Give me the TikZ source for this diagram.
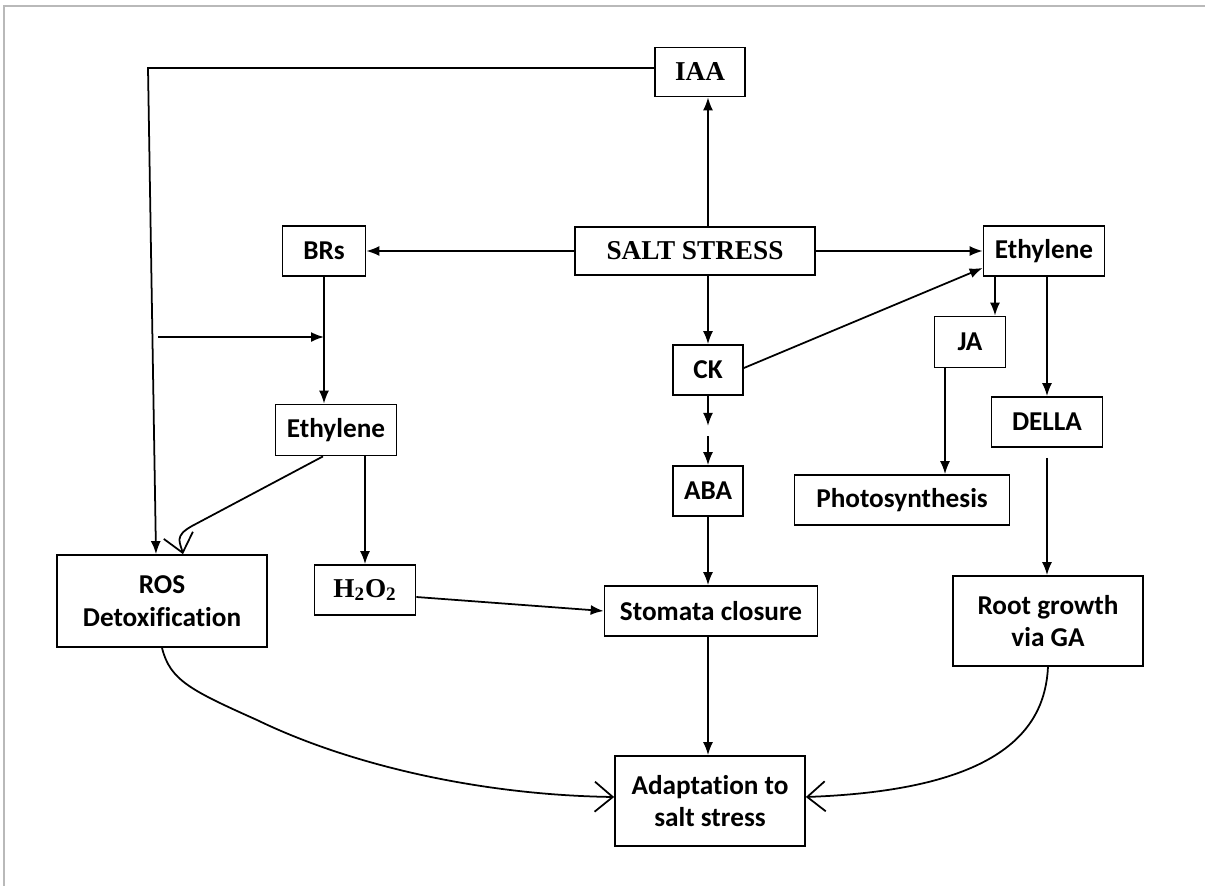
\documentclass[tikz,border=0pt]{standalone}
\usepackage{fontspec}
\setmainfont{Carlito}[Ligatures=NoCommon]
\newfontfamily\timesfont{Liberation Serif}
\usetikzlibrary{arrows.meta}

\begin{document}
\begin{tikzpicture}[x=0.02cm, y=-0.02cm,
    boxStyle/.style={rectangle, draw, line width=1pt, inner sep=0pt, align=center, font=\fontsize{15.5}{18.5}\selectfont\bfseries},
    serifStyle/.style={boxStyle, font=\timesfont\fontsize{15.5}{18.5}\selectfont\bfseries},
    arrowStyle/.style={line width=1pt, -{Latex[length=2.6mm, width=2mm]}},
    openStyle/.style={line width=1pt, -{Straight Barb[length=3.6mm, width=6mm]}}]
    \useasboundingbox (0,0) rectangle (1205,886);
    \draw[gray!55, line width=1pt] (4,886) -- (4,6) -- (1205,6);

    % top row
    \node[serifStyle, minimum width=1.8cm, minimum height=0.98cm]  (iaa)   at (700, 72)  {IAA};
    \node[serifStyle, minimum width=4.8cm, minimum height=0.96cm]  (salt)  at (695, 251) {SALT STRESS};
    \node[boxStyle,   minimum width=1.66cm, minimum height=1cm]    (brs)   at (324, 251) {BRs};
    \node[boxStyle,   minimum width=2.42cm, minimum height=1cm]    (ethR)  at (1044, 251) {Ethylene};

    % middle
    \node[boxStyle,   minimum width=1.4cm, minimum height=1cm]     (ck)    at (708, 370) {CK};
    \node[boxStyle,   minimum width=1.42cm, minimum height=1.02cm] (ja)    at (970, 342) {JA};
    \node[boxStyle,   minimum width=2.22cm, minimum height=1cm]    (della) at (1047, 422) {DELLA};
    \node[boxStyle,   minimum width=2.42cm, minimum height=1.02cm] (ethL)  at (336, 430) {Ethylene};
    \node[boxStyle,   minimum width=1.4cm, minimum height=1cm]     (aba)   at (708, 491) {ABA};
    \node[boxStyle,   minimum width=4.3cm, minimum height=1cm]     (photo) at (902, 500) {Photosynthesis};

    % lower row
    \node[boxStyle,   minimum width=4.2cm, minimum height=1.84cm]  (ros)   at (162, 601) {ROS\\Detoxification};
    \node[serifStyle, minimum width=2.02cm, minimum height=1cm]    (hoo)   at (365, 590) {H\textsubscript{2}O\textsubscript{2}};
    \node[boxStyle,   minimum width=4.26cm, minimum height=1cm]    (stom)  at (711, 611) {Stomata closure};
    \node[boxStyle,   minimum width=3.8cm, minimum height=1.8cm]   (root)  at (1048, 621) {Root growth\\via GA};
    \node[boxStyle,   minimum width=3.8cm, minimum height=1.8cm]   (adapt) at (710, 801) {Adaptation to\\salt stress};

    \coordinate (iaaCorner) at (148, 68);
    \coordinate (brsIn) at (158, 337);
    \coordinate (ethCurl) at (192, 526);
    \coordinate (rosMid) at (257, 720);

    % from salt stress
    \draw[arrowStyle] (salt.north -| ck) -- (iaa.south -| ck);
    \draw[arrowStyle] (salt.west) -- (brs.east);
    \draw[arrowStyle] (salt.east) -- (ethR.west);
    \draw[arrowStyle] (salt.south -| ck) -- (ck.north);

    % left branch
    \draw[arrowStyle] ([yshift=0.08cm]iaa.west) -- ([yshift=0.08cm]iaa.west -| iaaCorner) -- ([xshift=-0.12cm]ros.north);
    \draw[arrowStyle] (brsIn) -- (brsIn -| brs);
    \draw[arrowStyle] (brs.south) -- (brs.south |- ethL.north);
    \draw[arrowStyle] (ethL.south -| hoo) -- (hoo.north);
    \draw[openStyle] ([xshift=-0.26cm]ethL.south) -- (ethCurl) .. controls (174,536) and (180,542) .. ([xshift=0.42cm]ros.north);
    \draw[arrowStyle] ([yshift=-0.14cm]hoo.east) -- (stom.west);

    % centre
    \draw[arrowStyle] (ck.south) -- ++(0,30);
    \draw[arrowStyle] ([yshift=0.58cm]aba.north) -- (aba.north);
    \draw[arrowStyle] (aba.south) -- (aba.south |- stom.north);
    \draw[arrowStyle] (stom.south -| aba) -- (adapt.north -| aba);
    \draw[arrowStyle] ([yshift=0.04cm]ck.east) -- ([yshift=-0.34cm]ethR.west);

    % right branch
    \draw[arrowStyle] ([xshift=0.5cm]ja.north |- ethR.south) -- ([xshift=0.5cm]ja.north);
    \draw[arrowStyle] (ethR.south -| della) -- (della.north);
    \draw[arrowStyle] ([xshift=-0.5cm]ja.south) -- ([xshift=-0.5cm]ja.south |- photo.north);
    \draw[arrowStyle] ([yshift=-0.2cm]della.south) -- (della.south |- root.north);

    % to adaptation
    \draw[openStyle] (ros.south) .. controls (170,680) and (190,690) .. (rosMid) .. controls (350,765) and (480,795) .. ([yshift=0.08cm]adapt.west);
    \draw[openStyle] (root.south) .. controls (1045,730) and (1000,790) .. ([yshift=0.08cm]adapt.east);
\end{tikzpicture}
\end{document}
